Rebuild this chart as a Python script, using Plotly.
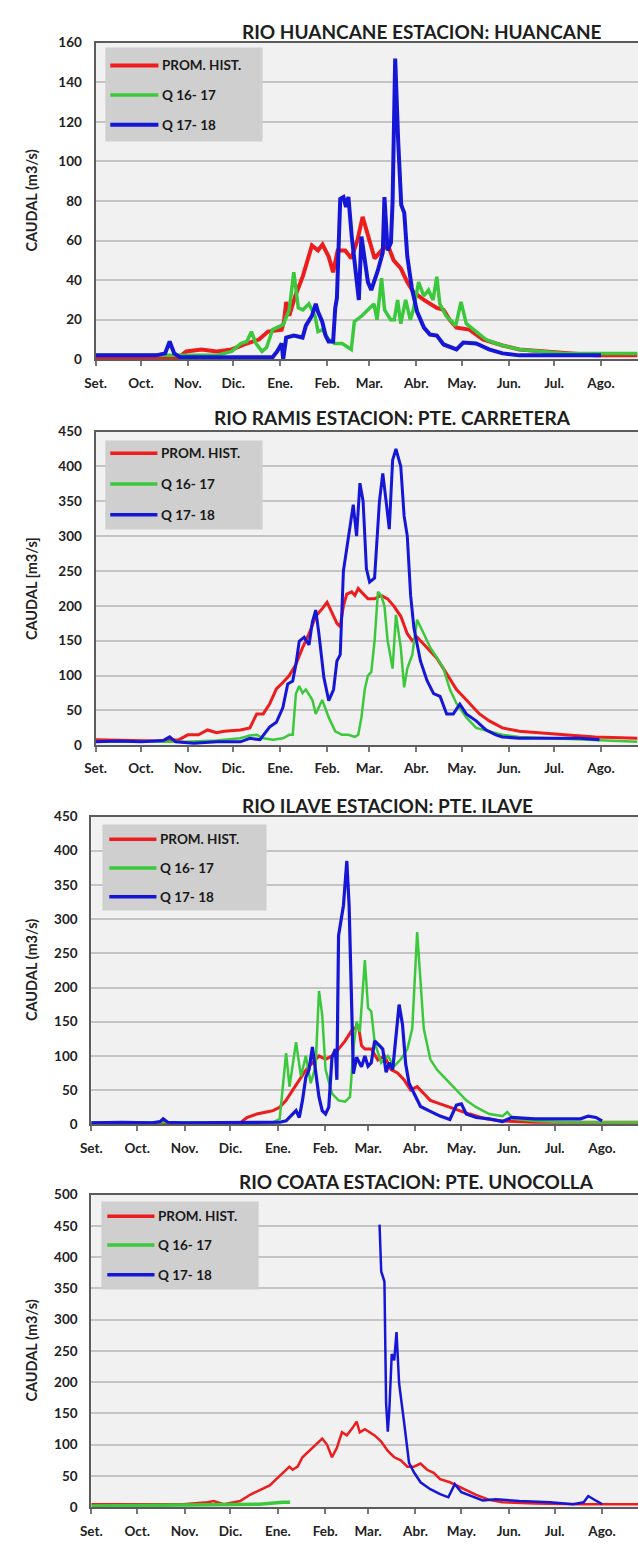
import plotly.graph_objects as go

# ---------------- axis labels ----------------
month_days = [0, 30, 61, 91, 122, 153, 181, 212, 242, 273, 303, 334]
month_labels = ["Set.", "Oct.", "Nov.", "Dic.", "Ene.", "Feb.", "Mar.", "Abr.", "May.", "Jun.", "Jul.", "Ago."]
series_names = ["PROM. HIST.", "Q 16- 17", "Q 17- 18"]
titles = ["RIO HUANCANE ESTACION: HUANCANE", "RIO RAMIS ESTACION: PTE. CARRETERA",
          "RIO ILAVE ESTACION: PTE. ILAVE", "RIO COATA ESTACION: PTE. UNOCOLLA"]
ytitles = ["CAUDAL (m3/s)", "CAUDAL [m3/s]", "CAUDAL (m3/s)", "CAUDAL (m3/s)"]

# ---------------- Panel 1: Huancane ----------------
hu_prom_d = [0, 30, 55, 60, 70, 80, 90, 100, 108, 114, 123, 124.5, 126, 128, 132, 137, 141, 143, 147, 150, 154, 157, 160, 165, 169, 173, 176.5, 180, 184.4, 189, 193, 197, 201.7, 206, 210, 217, 221, 225.5, 230, 234, 238.5, 247, 256, 269, 280, 295, 310, 330, 358]
hu_prom_v = [1, 1, 1, 4, 5, 4, 5, 8, 10, 14, 15, 19, 29, 22, 32, 42, 52, 57.5, 55, 58, 52, 44, 55, 55, 51, 60, 72, 62, 51, 55, 58, 50, 46, 39, 34, 30, 28, 26, 25, 20, 16, 15, 10, 7, 5, 4, 3, 2, 2]
hu_q1617_d = [0, 30, 60, 80, 90, 96, 100, 103, 106, 110, 113, 117, 124, 128, 131, 134, 137, 141, 145, 147, 150, 154, 158, 163, 167, 169, 171, 176, 180, 184, 186, 189, 191, 195, 197.4, 199.6, 201.7, 204.9, 208, 210, 213.5, 216.9, 220, 223, 225.5, 227.5, 231.6, 238, 241.5, 245, 251.5, 258, 264.7, 269, 280, 295, 310, 330, 358]
hu_q1617_v = [2, 2, 2, 2, 4, 8, 9, 14, 8, 4, 6, 15, 17.5, 25, 44, 26, 25, 28, 22, 14, 15, 10, 8, 8, 6, 5, 19, 22, 25, 28, 20, 41, 25, 20, 20, 30, 18, 30, 20, 25, 39, 32, 35, 30, 41.7, 28, 22, 17, 29, 18, 14, 10, 8, 7, 5, 4, 3, 3, 3]
hu_q1718_d = [0, 20, 40, 46, 49, 52, 56, 80, 100, 117, 120, 123, 124, 126, 131, 136.8, 139, 143, 145.5, 147, 149.8, 152, 154, 157, 158.4, 159.5, 161.7, 163.8, 165.5, 167.1, 169.3, 171.4, 174, 175.7, 177.9, 180, 182.2, 184.4, 186.6, 189.8, 190.9, 193, 195.2, 196.3, 198, 200, 202, 204, 206, 209, 212.5, 217, 221, 225.5, 230, 238.5, 243, 251.5, 260, 269, 280, 300, 320, 334]
hu_q1718_v = [2, 2, 2, 3, 9, 3, 1, 1, 1, 1, 4, 8, 0, 11, 12, 11, 17, 22, 28, 24, 19, 12, 9, 9, 26, 31, 81, 82, 77, 82, 62, 46, 30, 62, 49, 39, 35, 40, 45, 54, 82, 55, 59, 80, 152, 110, 78, 74, 52, 36, 24, 16, 12.5, 12, 7.5, 5, 8.5, 8, 5, 3, 2, 2, 2, 2]

# ---------------- Panel 2: Ramis ----------------
ra_prom_d = [0, 20, 40, 55, 61, 68, 74, 80, 85, 95.7, 102, 106.5, 110.8, 115, 119.5, 123.8, 128, 132.4, 136.8, 141.1, 145.5, 149.8, 153, 156.3, 159.5, 161.7, 163.8, 166, 169.3, 171.4, 173.6, 175.7, 180, 184.4, 188.7, 193, 197.4, 201.7, 206, 209.3, 212.5, 216.9, 221.2, 225.5, 229.9, 234.2, 238.5, 242.9, 247.2, 253.7, 260.2, 268.8, 280, 295, 310, 330, 358]
ra_prom_v = [8, 7, 6, 8, 15, 15, 22, 18, 20, 22, 25, 45, 45, 59, 81, 90, 100, 116, 140, 160, 185, 196, 205, 190, 175, 170, 200, 217, 220, 215, 225, 220, 210, 210, 215, 210, 199, 185, 160, 150, 155, 145, 135, 125, 110, 95, 80, 70, 60, 45, 35, 25, 20, 17, 15, 12, 10]
ra_q1617_d = [0, 30, 60, 80, 95.7, 102, 106.5, 110.8, 117.3, 123.8, 128, 130.3, 132.4, 134.6, 136.8, 139, 143.3, 145.5, 149.8, 154.1, 158.4, 162.8, 167.1, 171.4, 173.6, 175.7, 177.9, 180, 182.2, 184.4, 186.6, 188.7, 190.9, 193, 196.3, 198.5, 201.7, 203.9, 206, 209.3, 212.5, 216.9, 221.2, 225.5, 229.9, 234.2, 238.5, 245, 251.5, 260.2, 268.8, 280, 300, 320, 340, 358]
ra_q1617_v = [5, 5, 5, 7, 10, 14, 15, 10, 8, 10, 15, 15, 74, 85, 75, 80, 65, 45, 65, 40, 20, 15, 15, 12, 15, 40, 80, 100, 105, 150, 220, 215, 200, 150, 110, 187, 140, 83, 110, 130, 180, 160, 140, 126, 110, 80, 60, 40, 25, 20, 15, 12, 10, 8, 6, 5]
ra_q1718_d = [0, 15, 30, 45, 49, 53, 65, 80, 95.7, 102, 108.7, 115, 119.5, 123.8, 127, 130.3, 132.4, 134.6, 137.9, 141.1, 143.3, 145.5, 147.6, 150.9, 154.1, 157.3, 159.5, 161.7, 163.8, 167.1, 170.3, 172.5, 174.7, 176.8, 179, 181.1, 184.4, 187.6, 189.8, 192, 194.1, 196.3, 198.5, 201.7, 203.9, 206, 208.2, 210.4, 214.7, 219, 223.4, 227.7, 232, 236.4, 240.7, 245, 251.5, 258, 264.5, 268.8, 280, 300, 320, 333]
ra_q1718_v = [5, 6, 5, 7, 12, 5, 3, 5, 5, 10, 8, 26, 33, 54, 88, 92, 116, 149, 155, 144, 177, 194, 160, 97, 64, 80, 121, 130, 250, 300, 345, 300, 376, 350, 253, 234, 240, 350, 390, 350, 310, 409, 425, 400, 329, 300, 215, 168, 121, 93, 74, 70, 45, 45, 59, 45, 35, 22, 15, 12, 10, 10, 10, 8]

# ---------------- Panel 3: Ilave ----------------
il_prom_d = [0, 40, 80, 97.4, 101.7, 108.2, 114.6, 118.9, 123.2, 127.4, 131.7, 136, 140.3, 144.6, 148.9, 153.2, 157.4, 161.7, 166, 170.3, 174.6, 176.7, 178.9, 183.1, 187.4, 191.7, 196, 200.3, 204.6, 208.8, 213.1, 217.4, 221.7, 228.1, 234.5, 240.9, 247.4, 258.1, 268.9, 290, 320, 358]
il_prom_v = [2, 2, 2, 2, 10, 15, 18, 20, 25, 35, 50, 65, 79, 90, 100, 95, 100, 110, 122, 137, 145, 115, 110, 110, 94, 100, 80, 75, 65, 50, 55, 45, 35, 30, 25, 20, 15, 8, 5, 3, 3, 3]
il_q1617_d = [0, 40, 80, 118.9, 123.2, 127.4, 129.6, 133.9, 137.1, 140.3, 143.5, 146.7, 148.9, 151, 153.2, 157.4, 161.7, 166, 169.2, 171.4, 173.5, 175.6, 178.9, 181, 183.1, 185.3, 189.6, 193.9, 198.1, 202.4, 206.7, 209.9, 213.1, 215.3, 217.4, 221.7, 226, 232.4, 238.8, 245.2, 251.7, 260.3, 268.9, 272, 276, 290, 310, 330, 358]
il_q1617_v = [3, 3, 3, 3, 8, 104, 55, 120, 70, 100, 60, 85, 195, 160, 80, 45, 35, 33, 40, 110, 150, 135, 240, 170, 165, 120, 90, 100, 85, 95, 110, 140, 281, 200, 140, 95, 80, 65, 50, 35, 25, 15, 12, 18, 8, 5, 3, 3, 3]
il_q1718_d = [0, 20, 40, 45, 47, 50, 60, 80, 100, 118.9, 123.2, 127.4, 131.7, 133.9, 136, 138.1, 140.3, 142.4, 144.6, 146.7, 148.9, 151, 153.2, 155.3, 157.4, 159.6, 160.6, 161.7, 164.9, 167.1, 168.6, 170.3, 171.4, 173.5, 176.7, 178.9, 181, 183.1, 185.3, 188.5, 190.6, 192.8, 194.9, 197.1, 199.2, 201.3, 203.5, 205.6, 207.8, 211, 215.3, 221.7, 228.1, 234.5, 238.8, 242, 245.2, 251.7, 260.3, 268.9, 275, 290, 310, 320, 325, 330, 334]
il_q1718_v = [2, 3, 2, 4, 8, 3, 2, 2, 2, 2, 3, 5, 15, 20, 10, 35, 69, 80, 113, 75, 40, 20, 15, 25, 98, 110, 65, 276, 320, 385, 320, 171, 74, 98, 84, 100, 85, 90, 122, 115, 110, 76, 90, 80, 130, 175, 146, 88, 60, 45, 26, 19, 12, 7, 28, 30, 15, 10, 8, 4, 10, 8, 8, 8, 12, 10, 5]

# ---------------- Panel 4: Coata ----------------
co_prom_d = [0, 30, 60, 76, 80, 86.7, 97.4, 103.8, 110.3, 116.7, 121, 125.3, 129.6, 131.7, 134.9, 138.1, 142.4, 146.7, 151, 154.2, 157.4, 160.6, 163.9, 167.1, 170.3, 173.5, 175.6, 178.9, 182, 185.3, 189.6, 193.9, 198.1, 202.4, 206.7, 211, 215.3, 219.6, 223.9, 228.1, 234.5, 238.8, 245.2, 251.7, 260.3, 268.9, 290, 320, 358]
co_prom_v = [5, 5, 5, 8, 10, 5, 10, 20, 28, 35, 45, 55, 65, 60, 65, 80, 90, 100, 110, 100, 80, 95, 120, 115, 125, 137, 120, 125, 120, 115, 105, 90, 80, 75, 65, 65, 70, 60, 55, 45, 40, 35, 28, 20, 12, 8, 6, 5, 5]
co_q1617_d = [0, 30, 60, 90, 110, 125, 130]
co_q1617_v = [2, 3, 3, 4, 5, 8, 8]
co_q1718_d = [188.5, 189.6, 191.7, 192.8, 193.9, 194.9, 196.5, 198.1, 199.6, 201.3, 204.6, 207.8, 211, 215.3, 221.7, 228.1, 233.5, 237.7, 242, 247.4, 256, 264.6, 268.9, 280, 300, 315, 322, 325, 329, 334]
co_q1718_v = [452, 377, 361, 166, 121, 156, 245, 235, 280, 198, 135, 71, 56, 40, 29, 21, 16, 37, 24, 19, 11, 13, 12, 10, 8, 5, 8, 18, 12, 5]

panels = [
    (hu_prom_d, hu_prom_v, hu_q1617_d, hu_q1617_v, hu_q1718_d, hu_q1718_v),
    (ra_prom_d, ra_prom_v, ra_q1617_d, ra_q1617_v, ra_q1718_d, ra_q1718_v),
    (il_prom_d, il_prom_v, il_q1617_d, il_q1617_v, il_q1718_d, il_q1718_v),
    (co_prom_d, co_prom_v, co_q1617_d, co_q1617_v, co_q1718_d, co_q1718_v),
]
y_max = [160, 450, 450, 500]
y_dtick = [20, 50, 50, 50]

# ---------------- layout geometry (pixels) ----------------
W, H = 638, 1544
plot_top = [35, 428, 817, 1199]
plot_bot = [355, 745, 1128, 1515]
plot_left = [86, 86, 81.7, 81.7]
px_per_day = [1.54, 1.54, 1.556, 1.556]
title_cx = [418, 388, 383, 413]
title_cy = [24, 414, 806, 1186]
# legend boxes: (left, top, right, bottom), row centres, sample line x-extent
leg_box = [(96, 40, 256, 135), (96, 437, 256, 527), (93, 825, 260, 912), (92, 1206, 252, 1295)]
leg_rows = [(58, 88, 118), (450, 481, 512), (840, 869, 898), (1221, 1250, 1280)]
leg_line_x = [(101, 150), (101, 149), (100, 148), (98, 146)]
widths = [(4, 3.5, 4), (3, 2.5, 3), (3, 2.5, 3.2), (2.5, 3.5, 2.5)]
colors = ["#ee1c1c", "#3cc83c", "#1616d6"]

fig = go.Figure()
annotations, shapes = [], []
layout = dict(
    width=W, height=H, margin=dict(l=0, r=0, t=0, b=0),
    paper_bgcolor="white", plot_bgcolor="#f1f1f1",
    font=dict(family="Lato", size=12, color="#222"),
    showlegend=False,
)

def px(x):
    return x / W

def py(y):
    return 1 - y / H

for i, pdata in enumerate(panels):
    n = "" if i == 0 else str(i + 1)
    xa, ya = "x" + n, "y" + n
    for k in range(3):
        d, v = pdata[2 * k], pdata[2 * k + 1]
        fig.add_trace(go.Scatter(
            x=d, y=v, mode="lines", name=series_names[k],
            line=dict(color=colors[k], width=widths[i][k]),
            xaxis=xa, yaxis=ya, hoverinfo="skip",
        ))
    xr = (W - plot_left[i]) / px_per_day[i]
    layout["xaxis" + n] = dict(
        domain=[px(plot_left[i]), 1], anchor=ya, range=[0, xr],
        tickmode="array", tickvals=month_days, ticktext=month_labels,
        ticks="outside", ticklen=5, tickwidth=1.5, tickcolor="#777",
        showline=True, linecolor="#5c5c5c", linewidth=2, mirror=True,
        showgrid=False, zeroline=False, ticklabelstandoff=5,
        tickfont=dict(family="Lato", size=13.5, color="#222", weight="bold"),
    )
    layout["yaxis" + n] = dict(
        domain=[py(plot_bot[i]), py(plot_top[i])], anchor=xa,
        range=[0, y_max[i]], dtick=y_dtick[i], tick0=0,
        showgrid=True, gridcolor="#c4c4c4", gridwidth=2,
        showline=True, linecolor="#5c5c5c", linewidth=2,
        zeroline=False, ticks="", ticklabelstandoff=9,
        tickfont=dict(family="Lato", size=13.5, color="#222", weight="bold"),
    )
    # panel title
    annotations.append(dict(
        text=titles[i], x=px(title_cx[i]), y=py(title_cy[i]),
        xref="paper", yref="paper", xanchor="center", yanchor="middle",
        showarrow=False, font=dict(family="Lato", size=19, color="#1e1e1e", weight="bold"),
    ))
    # y-axis title
    annotations.append(dict(
        text=ytitles[i], x=px(21), y=py((plot_top[i] + plot_bot[i]) / 2),
        xref="paper", yref="paper", xanchor="center", yanchor="middle",
        textangle=-90, showarrow=False,
        font=dict(family="Lato", size=14.5, color="#222", weight="bold"),
    ))
    # legend (box, sample lines, labels)
    l, t, r, b = leg_box[i]
    shapes.append(dict(type="rect", xref="paper", yref="paper",
                       x0=px(l), x1=px(r), y0=py(b), y1=py(t),
                       fillcolor="#cfcfcf", line=dict(width=0), layer="above"))
    for k in range(3):
        yy = leg_rows[i][k]
        shapes.append(dict(type="line", xref="paper", yref="paper",
                           x0=px(leg_line_x[i][0]), x1=px(leg_line_x[i][1]),
                           y0=py(yy), y1=py(yy), layer="above",
                           line=dict(color=colors[k], width=max(widths[i][k], 3.5))))
        annotations.append(dict(
            text=series_names[k], x=px(leg_line_x[i][1] + 2), y=py(yy),
            xref="paper", yref="paper", xanchor="left", yanchor="middle",
            showarrow=False,
            font=dict(family="Lato", size=13.5, color="#1a1a1a", weight="bold"),
        ))

layout["annotations"] = annotations
layout["shapes"] = shapes
fig.update_layout(**layout)
fig.write_html("out.html")
